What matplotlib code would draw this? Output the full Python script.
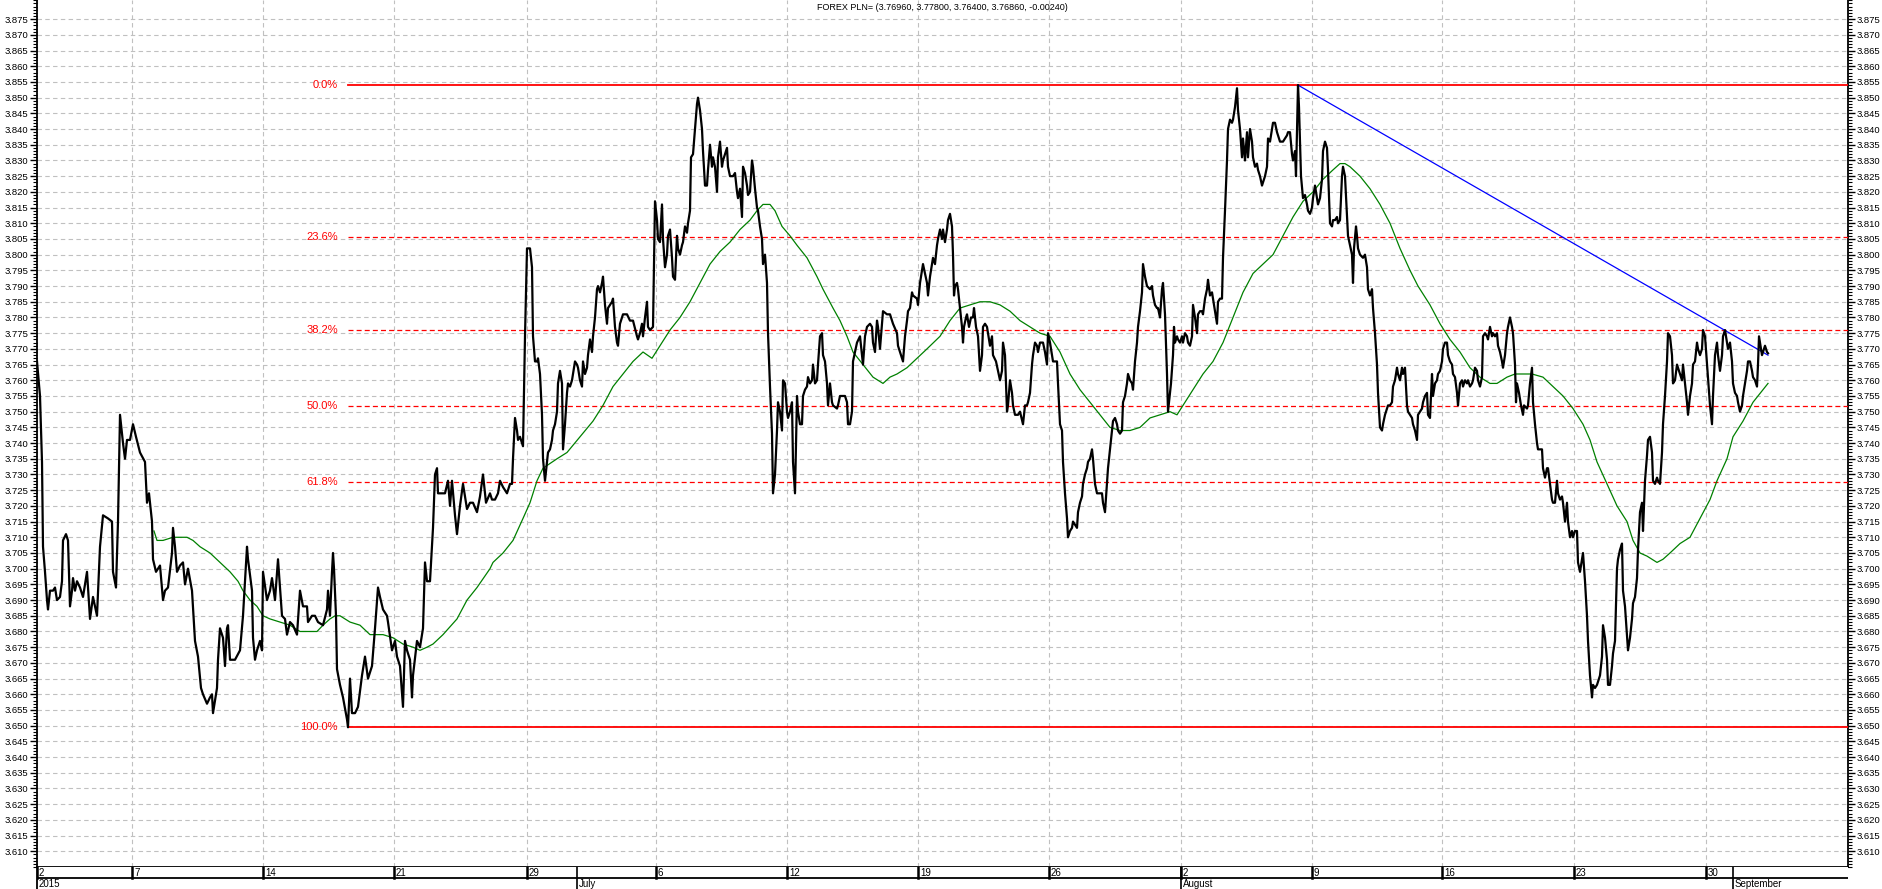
import matplotlib
matplotlib.use("Agg")
import matplotlib.pyplot as plt
from matplotlib.ticker import FixedLocator, MultipleLocator, FormatStrFormatter
import numpy as np

plt.rcParams['font.family'] = ['Liberation Sans', 'DejaVu Sans']

title = "FOREX PLN= (3.76960, 3.77800, 3.76400, 3.76860, -0.00240)"

# closes as (bar index, price), one list per stretch
seg_june = [(0,3.766),(3,3.755),(5,3.734),(6,3.707),(8,3.699),(10,3.690),(11,3.687),(13,3.693),(16,3.693),(18,3.694),
    (20,3.690),(23,3.691),(25,3.696),(26,3.709),(29,3.711),(31,3.709),(33,3.688),(35,3.693),(36,3.697),(38,3.693),
    (40,3.696),(43,3.694),(46,3.691),(50,3.699),(53,3.684),(56,3.691),(60,3.685),(63,3.707),(66,3.717),(71,3.716),
    (75,3.715),(76,3.699),(79,3.694),(81,3.715),(83,3.749),(86,3.740),(88,3.735),(90,3.741),(93,3.741),(96,3.746),
    (99,3.742),(103,3.737),(108,3.734),(110,3.721),(112,3.724),(115,3.715),(116,3.703),(119,3.699),(121,3.700),(123,3.701),
    (126,3.690),(128,3.693),(131,3.694),(135,3.705),(136,3.713),(138,3.707),(140,3.699),(143,3.701),(146,3.702),(148,3.695),
    (151,3.700),(155,3.693),(158,3.677),(161,3.672),(164,3.662),(166,3.660),(170,3.657),(173,3.659),(175,3.660),(176,3.654),
    (180,3.662),(181,3.671),(183,3.681),(186,3.678),(188,3.669),(190,3.681),(191,3.682),(193,3.671),(198,3.671),(203,3.674),
    (206,3.685),(210,3.707),(211,3.703),(215,3.693),(216,3.678),(218,3.671),(220,3.674),(223,3.677),(225,3.674),(226,3.699),
    (230,3.690),(233,3.693),(235,3.697),(238,3.690),(240,3.699),(241,3.703),(245,3.685),(248,3.684),(250,3.679),(253,3.683),
    (256,3.682),(260,3.679),(263,3.693),(266,3.688),(270,3.688),(271,3.683),(275,3.685),(278,3.685),(281,3.683),(286,3.682),
    (290,3.687),(291,3.693),(293,3.685),(295,3.699),(296,3.705),(297,3.700),(299,3.685),(300,3.668),(303,3.663),(306,3.659),
    (310,3.652),(311,3.6495),(313,3.665),(315,3.654),(318,3.654),(321,3.656),(325,3.666),(328,3.672),(331,3.665),(335,3.669),
    (338,3.681),(341,3.694),(343,3.691),(346,3.687),(350,3.685),(351,3.683),(355,3.674),(358,3.677),(360,3.672),(363,3.669),
    (366,3.656),(368,3.677),(370,3.674),(373,3.671),(375,3.659),(376,3.666),(380,3.677),(383,3.675),(386,3.681),(388,3.702),
    (390,3.696),(393,3.696),(396,3.713),(398,3.730),(400,3.732),(401,3.724),(405,3.724),(408,3.724),(411,3.728),(413,3.720),
    (415,3.728),(418,3.717),(420,3.711),(423,3.720),(426,3.727),(430,3.719),(433,3.721),(436,3.721),(440,3.718),(443,3.723),
    (446,3.730),(449,3.721),(453,3.724)]

seg_july = [(455,3.722),(458,3.722),(461,3.724),(463,3.728),(466,3.726),(470,3.724),(473,3.727),(475,3.727),(476,3.735),(478,3.748),
    (480,3.744),(481,3.741),(483,3.742),(485,3.740),(486,3.739),(488,3.774),(490,3.802),(491,3.802),(493,3.802),(495,3.796),
    (496,3.774),(498,3.766),(500,3.766),(501,3.767),(503,3.762),(505,3.749),(506,3.735),(508,3.728),(510,3.734),(511,3.737),
    (513,3.738),(515,3.741),(516,3.744),(518,3.746),(520,3.750),(521,3.759),(523,3.763),(525,3.759),(526,3.738),(528,3.746),
    (530,3.756),(531,3.759),(533,3.758),(535,3.760),(538,3.766),(540,3.765),(541,3.764),(543,3.760),(545,3.758),(546,3.766),
    (548,3.762),(550,3.764),(551,3.768),(553,3.773),(555,3.769),(556,3.774),(558,3.780),(560,3.789),(561,3.790),(563,3.788),
    (565,3.791),(566,3.793),(568,3.784),(570,3.778),(571,3.783),(575,3.785),(576,3.786),(578,3.777),(580,3.772),(581,3.771),
    (583,3.778),(585,3.780),(586,3.781),(590,3.781),(593,3.779),(596,3.779),(600,3.774),(601,3.773),(603,3.775),(605,3.778),
    (606,3.774),(608,3.780),(610,3.785),(611,3.777),(613,3.776),(616,3.777),(617,3.797),(618,3.817),(620,3.811),(621,3.805),
    (623,3.804),(625,3.816),(626,3.805),(628,3.796),(630,3.800),(631,3.806),(633,3.808),(635,3.799),(636,3.793),(638,3.792),
    (640,3.806),(641,3.802),(643,3.800),(645,3.803),(646,3.804),(648,3.809),(650,3.807),(651,3.810),(653,3.814),(654,3.831),
    (656,3.832),(658,3.840),(660,3.848),(661,3.850),(663,3.846),(665,3.840),(666,3.833),(668,3.822),(670,3.822),(671,3.827),
    (673,3.835),(675,3.828),(676,3.831),(678,3.828),(680,3.820),(681,3.831),(683,3.836),(685,3.828),(686,3.830),(690,3.834),
    (691,3.828),(693,3.825),(696,3.825),(698,3.826),(700,3.820),(701,3.818),(703,3.821),(705,3.812),(706,3.828),(708,3.826),
    (710,3.822),(711,3.819),(713,3.820),(715,3.830),(716,3.828),(718,3.821),(720,3.815),(721,3.814),(723,3.809),(725,3.805),
    (726,3.797),(728,3.800),(730,3.791),(731,3.775),(733,3.758),(735,3.743),(736,3.724),(738,3.730),(740,3.744),(741,3.753),
    (743,3.750),(745,3.744),(746,3.760),(748,3.759),(750,3.750),(751,3.748),(753,3.750),(755,3.753),(756,3.734),(758,3.724),
    (760,3.755),(761,3.750),(763,3.746),(765,3.746),(766,3.755),(768,3.757),(770,3.758),(771,3.761),(773,3.759),(775,3.760),
    (776,3.765),(778,3.759),(780,3.760),(781,3.765),(783,3.774),(785,3.775),(786,3.768),(788,3.766),(790,3.759),(791,3.752),
    (793,3.759),(795,3.753),(796,3.752),(800,3.751),(801,3.752),(803,3.755),(806,3.755),(808,3.755),(810,3.753),(811,3.746),
    (813,3.746),(815,3.750),(816,3.766),(818,3.769),(820,3.772),(823,3.774),(825,3.768),(826,3.765),(828,3.774),(830,3.777),
    (833,3.778),(835,3.777),(836,3.772),(838,3.769),(840,3.779),(841,3.777),(843,3.770),(845,3.778),(846,3.782),(850,3.781),
    (853,3.781),(856,3.778),(860,3.775),(861,3.771),(863,3.769),(865,3.767),(866,3.766),(868,3.774),(870,3.779),(871,3.782),
    (873,3.783),(875,3.788),(876,3.787),(880,3.786),(881,3.784),(883,3.791),(885,3.795),(886,3.797),(888,3.794),(890,3.791),
    (891,3.787),(893,3.793),(895,3.797),(896,3.799),(898,3.797),(900,3.803),(901,3.805),(903,3.808)]

seg_august = [(905,3.805),(906,3.808),(908,3.804),(910,3.808),(911,3.811),(913,3.813),(915,3.809),(916,3.800),(917,3.787),(918,3.790),
    (920,3.791),(921,3.789),(923,3.783),(925,3.777),(926,3.772),(927,3.777),(929,3.780),(930,3.781),(932,3.777),(934,3.780),
    (936,3.780),(937,3.783),(939,3.777),(941,3.774),(943,3.763),(945,3.768),(946,3.777),(948,3.778),(950,3.777),(951,3.775),
    (953,3.771),(955,3.774),(956,3.768),(959,3.766),(961,3.763),(963,3.760),(965,3.763),(966,3.772),(968,3.768),(970,3.750),
    (971,3.752),(973,3.760),(975,3.756),(976,3.752),(978,3.749),(980,3.749),(981,3.749),(983,3.750),(986,3.746),(988,3.752),
    (990,3.752),(991,3.753),(993,3.756),(995,3.765),(996,3.768),(998,3.772),(1000,3.771),(1001,3.769),(1003,3.772),(1005,3.772),
    (1006,3.772),(1008,3.769),(1010,3.765),(1011,3.775),(1013,3.772),(1015,3.768),(1016,3.766),(1018,3.766),(1020,3.766),(1021,3.759),
    (1023,3.746),(1025,3.744),(1026,3.734),(1028,3.724),(1030,3.716),(1031,3.710),(1033,3.712),(1035,3.713),(1036,3.715),(1038,3.714),
    (1040,3.713),(1041,3.718),(1043,3.721),(1045,3.723),(1046,3.727),(1048,3.730),(1050,3.732),(1051,3.734),(1053,3.735),(1055,3.738),
    (1056,3.735),(1058,3.727),(1060,3.724),(1063,3.724),(1065,3.724),(1066,3.721),(1068,3.718),(1070,3.727),(1071,3.732),(1073,3.738),
    (1075,3.744),(1076,3.747),(1078,3.748),(1080,3.746),(1081,3.744),(1083,3.743),(1085,3.744),(1086,3.753),(1088,3.755),(1090,3.759),
    (1091,3.762),(1093,3.760),(1095,3.759),(1096,3.757),(1098,3.766),(1100,3.772),(1101,3.777),(1103,3.782),(1105,3.788),(1106,3.797),
    (1108,3.793),(1110,3.790),(1113,3.789),(1115,3.790),(1116,3.787),(1118,3.784),(1120,3.783),(1121,3.783),(1123,3.780),(1125,3.789),
    (1126,3.791),(1128,3.781),(1130,3.762),(1131,3.750),(1132,3.753),(1134,3.759),(1136,3.768),(1137,3.777),(1138,3.772),(1140,3.774),
    (1141,3.773),(1143,3.772),(1145,3.774),(1146,3.772),(1148,3.775),(1150,3.774),(1151,3.772),(1153,3.771),(1155,3.774),(1156,3.784),
    (1158,3.780),(1160,3.775),(1161,3.781),(1163,3.782),(1165,3.782),(1166,3.781),(1168,3.786),(1170,3.789),(1171,3.792),(1173,3.787),
    (1175,3.788),(1176,3.786),(1178,3.782),(1180,3.778),(1181,3.785),(1183,3.786),(1185,3.786),(1186,3.799),(1188,3.814),(1190,3.830),
    (1191,3.840),(1193,3.843),(1195,3.842),(1196,3.843),(1198,3.847),(1200,3.853),(1201,3.846),(1203,3.840),(1205,3.831),(1206,3.837),
    (1208,3.830),(1210,3.839),(1211,3.831),(1213,3.840),(1215,3.836),(1216,3.831),(1218,3.828),(1220,3.829),(1221,3.827),(1223,3.825),
    (1225,3.822),(1226,3.823),(1228,3.825),(1230,3.828),(1231,3.837),(1233,3.836),(1235,3.840),(1236,3.842),(1238,3.842),(1240,3.839),
    (1241,3.838),(1243,3.836),(1245,3.836),(1246,3.836),(1248,3.837),(1250,3.838),(1251,3.839),(1253,3.839),(1255,3.832),(1256,3.830),
    (1258,3.833),(1259,3.825),(1260,3.839),(1261,3.854),(1262,3.847),(1264,3.825),(1266,3.818),(1268,3.819),(1270,3.816),(1271,3.814),
    (1273,3.813),(1275,3.815),(1276,3.818),(1278,3.822),(1280,3.818),(1281,3.816),(1283,3.818),(1285,3.824),(1286,3.833),(1288,3.836),
    (1290,3.834),(1291,3.827),(1293,3.810),(1295,3.809),(1296,3.811),(1298,3.811),(1300,3.812),(1301,3.810),(1303,3.811),(1305,3.825),
    (1306,3.828),(1308,3.825),(1310,3.812),(1311,3.806),(1313,3.803),(1315,3.800),(1316,3.791),(1317,3.802),(1319,3.809),(1320,3.806),
    (1321,3.802),(1323,3.800),(1326,3.799),(1328,3.800),(1330,3.796),(1331,3.789),(1333,3.787),(1335,3.789),(1336,3.783),(1338,3.775),
    (1340,3.765),(1341,3.756),(1343,3.745),(1345,3.744),(1346,3.746),(1348,3.749),(1350,3.751),(1351,3.752),(1353,3.752)]

seg_late = [(1355,3.753),(1356,3.758),(1358,3.760),(1360,3.764),(1361,3.762),(1363,3.760),(1365,3.764),(1366,3.762),(1368,3.764),(1370,3.752),
    (1371,3.750),(1373,3.749),(1375,3.748),(1376,3.746),(1378,3.744),(1380,3.741),(1381,3.749),(1383,3.750),(1385,3.751),(1386,3.753),
    (1388,3.755),(1390,3.756),(1391,3.749),(1393,3.748),(1395,3.762),(1396,3.755),(1398,3.759),(1400,3.760),(1401,3.762),(1403,3.763),
    (1405,3.766),(1406,3.770),(1408,3.772),(1410,3.772),(1411,3.768),(1413,3.766),(1415,3.765),(1416,3.762),(1418,3.761),(1420,3.756),
    (1421,3.752),(1423,3.759),(1425,3.760),(1426,3.758),(1428,3.760),(1430,3.759),(1431,3.760),(1433,3.758),(1435,3.759),(1436,3.760),
    (1438,3.764),(1440,3.763),(1441,3.760),(1443,3.758),(1445,3.761),(1446,3.774),(1448,3.775),(1450,3.774),(1451,3.773),(1453,3.777),
    (1455,3.774),(1456,3.775),(1458,3.774),(1460,3.775),(1461,3.771),(1463,3.769),(1465,3.766),(1466,3.764),(1468,3.768),(1470,3.775),
    (1471,3.777),(1473,3.780),(1475,3.777),(1476,3.775),(1478,3.765),(1479,3.753),(1480,3.759),(1482,3.756),(1484,3.752),(1486,3.749),
    (1487,3.752),(1490,3.751),(1491,3.752),(1493,3.759),(1495,3.764),(1496,3.753),(1498,3.746),(1500,3.740),(1501,3.738),(1503,3.738),
    (1505,3.738),(1506,3.732),(1508,3.729),(1510,3.732),(1511,3.732),(1513,3.727),(1515,3.722),(1516,3.721),(1518,3.721),(1520,3.728),
    (1521,3.724),(1523,3.722),(1525,3.723),(1526,3.721),(1528,3.715),(1530,3.721),(1531,3.715),(1533,3.710),(1535,3.712),(1536,3.710),
    (1538,3.712),(1540,3.712),(1541,3.702),(1543,3.699),(1545,3.703),(1546,3.705),(1548,3.696),(1550,3.685),(1551,3.677),(1553,3.666),
    (1555,3.659),(1556,3.663),(1558,3.662),(1560,3.663),(1561,3.664),(1563,3.666),(1565,3.672),(1566,3.682),(1568,3.678),(1570,3.671),
    (1571,3.663),(1573,3.663),(1575,3.669),(1576,3.673),(1578,3.677),(1580,3.700),(1581,3.703),(1583,3.706),(1585,3.708),(1586,3.693),
    (1588,3.688),(1590,3.679),(1591,3.674),(1593,3.678),(1595,3.684),(1596,3.689),(1598,3.691),(1600,3.697),(1601,3.706),(1603,3.718),
    (1605,3.721),(1606,3.712),(1608,3.728),(1610,3.736),(1611,3.741),(1613,3.742),(1615,3.737),(1616,3.728),(1618,3.727),(1620,3.729),
    (1621,3.728),(1623,3.727),(1625,3.737),(1626,3.746),(1628,3.755),(1630,3.766),(1631,3.775),(1633,3.774),(1635,3.768),(1636,3.759),
    (1638,3.760),(1640,3.765),(1641,3.764),(1643,3.762),(1645,3.760),(1646,3.765),(1648,3.759),(1650,3.753),(1651,3.749),(1653,3.755),
    (1655,3.759),(1656,3.765),(1658,3.766),(1660,3.772),(1661,3.770),(1663,3.768),(1665,3.770),(1666,3.776),(1668,3.774),(1670,3.765),
    (1671,3.761),(1673,3.752),(1675,3.746),(1676,3.755),(1678,3.768),(1680,3.772),(1681,3.768),(1683,3.763),(1685,3.768),(1686,3.774),
    (1688,3.776),(1690,3.772),(1691,3.770),(1693,3.772),(1695,3.766),(1696,3.759),(1698,3.756),(1700,3.755),(1701,3.753),(1703,3.750),
    (1705,3.752),(1706,3.755),(1708,3.759),(1710,3.763),(1711,3.766),(1713,3.766),(1715,3.763),(1716,3.761),(1718,3.760),(1720,3.758),
    (1721,3.765),(1722,3.774),(1724,3.770),(1725,3.768),(1726,3.769),(1728,3.771),(1730,3.769),(1731,3.7686)]

# moving average (green)
ma_pts = [(117,3.712),(120,3.709),(126,3.709),(136,3.710),(143,3.710),(150,3.710),(156,3.709),(163,3.707),(173,3.705),(183,3.702),
    (193,3.699),(201,3.696),(206,3.693),(213,3.690),(220,3.688),(226,3.685),(233,3.684),(243,3.683),(253,3.682),(263,3.680),
    (273,3.680),(280,3.680),(286,3.682),(293,3.684),(298,3.685),(303,3.685),(313,3.683),(323,3.682),(333,3.679),(340,3.679),
    (346,3.679),(356,3.678),(366,3.676),(376,3.675),(383,3.674),(390,3.675),(396,3.676),(406,3.679),(420,3.684),(430,3.690),
    (440,3.694),(453,3.700),(456,3.702),(466,3.705),(476,3.709),(486,3.716),(493,3.721),(500,3.728),(506,3.732),(520,3.735),
    (530,3.737),(543,3.742),(556,3.747),(566,3.752),(576,3.758),(586,3.762),(596,3.766),(606,3.769),(615,3.767),(623,3.771),
    (633,3.776),(643,3.780),(653,3.785),(663,3.791),(673,3.797),(683,3.801),(693,3.804),(703,3.808),(713,3.811),(720,3.814),
    (726,3.816),(733,3.816),(738,3.814),(745,3.809),(753,3.806),(760,3.803),(770,3.799),(780,3.793),(786,3.789),(796,3.783),
    (803,3.779),(810,3.774),(816,3.769),(826,3.765),(836,3.761),(846,3.759),(853,3.761),(860,3.762),(870,3.764),(880,3.767),
    (890,3.770),(903,3.774),(913,3.779),(923,3.783),(933,3.784),(943,3.785),(953,3.785),(963,3.784),(973,3.782),(983,3.779),
    (993,3.777),(1003,3.775),(1013,3.774),(1023,3.769),(1033,3.762),(1043,3.757),(1053,3.753),(1063,3.749),(1073,3.745),(1083,3.744),
    (1093,3.744),(1103,3.745),(1113,3.748),(1123,3.749),(1133,3.750),(1140,3.749),(1146,3.752),(1156,3.757),(1166,3.762),(1176,3.766),
    (1186,3.772),(1196,3.780),(1206,3.788),(1216,3.794),(1226,3.797),(1236,3.800),(1246,3.806),(1256,3.812),(1266,3.817),(1276,3.820),
    (1286,3.824),(1296,3.827),(1303,3.829),(1308,3.829),(1313,3.828),(1323,3.825),(1333,3.821),(1343,3.816),(1353,3.810),(1363,3.802),
    (1373,3.795),(1381,3.790),(1393,3.784),(1403,3.778),(1413,3.773),(1423,3.769),(1433,3.764),(1443,3.761),(1453,3.759),(1460,3.759),
    (1470,3.761),(1478,3.762),(1486,3.762),(1495,3.762),(1506,3.761),(1516,3.758),(1526,3.755),(1536,3.751),(1546,3.746),(1553,3.741),
    (1560,3.734),(1570,3.727),(1580,3.720),(1590,3.715),(1596,3.709),(1603,3.705),(1610,3.704),(1620,3.702),(1626,3.703),(1633,3.705),
    (1643,3.708),(1653,3.710),(1663,3.716),(1673,3.722),(1680,3.728),(1690,3.735),(1696,3.742),(1706,3.747),(1716,3.753),(1726,3.757),
    (1731,3.759)]

trend_bars = [1261, 1731]
trend_vals = [3.854, 3.768]

fib_high = 3.854
fib_low = 3.6495
fib_ratios = [0.0, 0.236, 0.382, 0.5, 0.618, 1.0]
fib_labels = ["0.0%", "23.6%", "38.2%", "50.0%", "61.8%", "100.0%"]

week_bars = [0, 95, 226, 357, 490, 619, 750, 881, 1012, 1144, 1275, 1405, 1537, 1669]
week_labels = ["2", "7", "14", "21", "29", "6", "12", "19", "26", "2", "9", "16", "23", "30"]
month_bars = [540, 1144, 1696]
month_labels = ["July", "August", "September"]
year_label = "2015"

price = np.array(seg_june + seg_july + seg_august + seg_late)
bars, close = price[:, 0], price[:, 1]
ma = np.array(ma_pts)

W, H = 1883, 889
fig = plt.figure(figsize=(W / 100, H / 100), dpi=100)
ax = fig.add_axes([37 / W, 22 / H, 1811 / W, 867 / H])
ax.set_xlim(0, 1811)
ax.set_ylim(3.605, 3.8811)

# grid
yt = np.round(np.arange(3.610, 3.8751, 0.005), 3)
ax.yaxis.set_major_locator(FixedLocator(yt))
ax.yaxis.set_minor_locator(MultipleLocator(0.001))
ax.yaxis.set_major_formatter(FormatStrFormatter('%.3f'))
ax.set_xticks(week_bars)
ax.set_xticklabels([])
ax.grid(True, color='#c0c0c0', linestyle=(0, (4, 3)), linewidth=0.8)
ax.set_axisbelow(True)

ax.tick_params(axis='x', length=0)
ax.tick_params(axis='y', which='both', direction='out', left=True, right=True,
               labelleft=True, labelright=True, labelsize=6.8, colors='black', pad=1.5)
ax.tick_params(axis='y', which='major', length=5, width=1)
ax.tick_params(axis='y', which='minor', length=3, width=0.8)

for s in ['left', 'right', 'bottom']:
    ax.spines[s].set_linewidth(1.3)
    ax.spines[s].set_color('black')
ax.spines['top'].set_visible(False)

# fibonacci retracement
low_bar = bars[np.argmin(close)]
for r, lab in zip(fib_ratios, fib_labels):
    lvl = fib_high - r * (fib_high - fib_low)
    if r in (0.0, 1.0):
        ax.plot([low_bar, 1811], [lvl, lvl], color='#ff0000', lw=1.3, zorder=3)
    else:
        ax.plot([low_bar, 1811], [lvl, lvl], color='#ff0000', lw=0.9, linestyle=(0, (4, 2.5)), zorder=3)
    ax.text(low_bar - 10, lvl, lab, color='#ff0000', fontsize=8, ha='right', va='center')

ax.plot(ma[:, 0], ma[:, 1], color='#008000', lw=0.9, zorder=4)
ax.plot(trend_bars, trend_vals, color='#0000ff', lw=0.9, zorder=4)
ax.plot(bars, close, color='black', lw=1.6, zorder=5)

ax.text(0.5, 0.997, title, transform=ax.transAxes, ha='center', va='top', fontsize=6.5)

# date strip
dax = fig.add_axes([37 / W, 0, 1811 / W, 22 / H])
dax.set_xlim(0, 1811)
dax.set_ylim(0, 1)
dax.set_xticks([])
dax.set_yticks([])
for s in ['top', 'right', 'bottom']:
    dax.spines[s].set_visible(False)
dax.spines['left'].set_linewidth(1.3)
dax.axhline(0.5, color='black', lw=1.3)
for b, lab in zip(week_bars, week_labels):
    dax.plot([b, b], [0.5, 1], color='black', lw=1.8)
    dax.text(b + 2, 0.74, lab, fontsize=7, ha='left', va='center')
for b, lab in zip(month_bars, month_labels):
    dax.plot([b, b], [0, 1], color='black', lw=1.2)
    dax.text(b + 2, 0.22, lab, fontsize=7, ha='left', va='center')
dax.text(2, 0.22, year_label, fontsize=7, ha='left', va='center')

fig.savefig('out.png', dpi=100)
